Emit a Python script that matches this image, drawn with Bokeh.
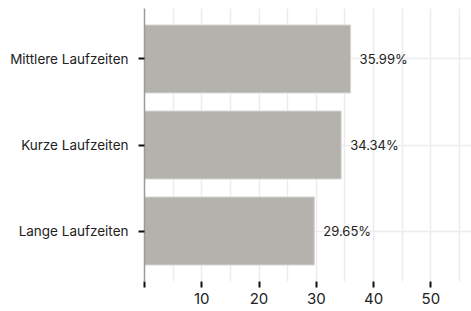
from bokeh.plotting import figure
from bokeh.models import ColumnDataSource, FactorRange, FixedTicker, Range1d
from bokeh.core.properties import value
from bokeh.embed import file_html
from bokeh.resources import INLINE

categories = ["Lange Laufzeiten", "Kurze Laufzeiten", "Mittlere Laufzeiten"]
values = [29.65, 34.34, 35.99]
labels = ["29.65%", "34.34%", "35.99%"]
x_ticks = [0, 10, 20, 30, 40, 50]
x_minor = [5, 15, 25, 35, 45, 55]

src = ColumnDataSource(dict(cat=categories, val=values, lab=labels))

p = figure(width=471, height=311, output_backend="svg", toolbar_location=None,
           y_range=FactorRange(*categories, range_padding=0.058),
           x_range=Range1d(0, 57.1),
           min_border_left=144, min_border_right=0, min_border_top=8, min_border_bottom=30)
p.outline_line_color = None

p.hbar(y="cat", right="val", left=0, height=0.79, source=src,
       fill_color="#b3b2ad", line_color="#d6d5d1", line_width=1)

p.text(x="val", y="cat", text="lab", source=src, x_offset=9,
       text_baseline="middle", text_align="left",
       text_font=value("Inter"), text_font_size="13px", text_color="#222222")

p.xaxis.ticker = FixedTicker(ticks=x_ticks, minor_ticks=x_minor)
p.xaxis.major_label_overrides = {0: ""}
p.xaxis.axis_line_color = None
p.xaxis.major_tick_line_color = "#111111"
p.xaxis.major_tick_line_width = 2
p.xaxis.major_tick_in = 0
p.xaxis.major_tick_out = 6
p.xaxis.minor_tick_line_color = None
p.xaxis.major_label_standoff = 5
p.xaxis.major_label_text_font = "Inter"
p.xaxis.major_label_text_font_size = "15px"
p.xaxis.major_label_text_color = "#222222"

p.yaxis.axis_line_color = "#9a9a9a"
p.yaxis.axis_line_width = 1.5
p.yaxis.major_tick_line_color = "#111111"
p.yaxis.major_tick_line_width = 2
p.yaxis.major_tick_in = 0
p.yaxis.major_tick_out = 6
p.yaxis.major_label_standoff = 10
p.yaxis.major_label_text_font = "Inter"
p.yaxis.major_label_text_font_size = "13.5px"
p.yaxis.major_label_text_color = "#222222"

p.xgrid.grid_line_color = "#ececec"
p.xgrid.minor_grid_line_color = "#ececec"
p.ygrid.grid_line_color = "#ececec"
p.xgrid.grid_line_width = 1.5
p.xgrid.minor_grid_line_width = 1.5
p.ygrid.grid_line_width = 1.5

open("out.html", "w").write(file_html(p, INLINE))
